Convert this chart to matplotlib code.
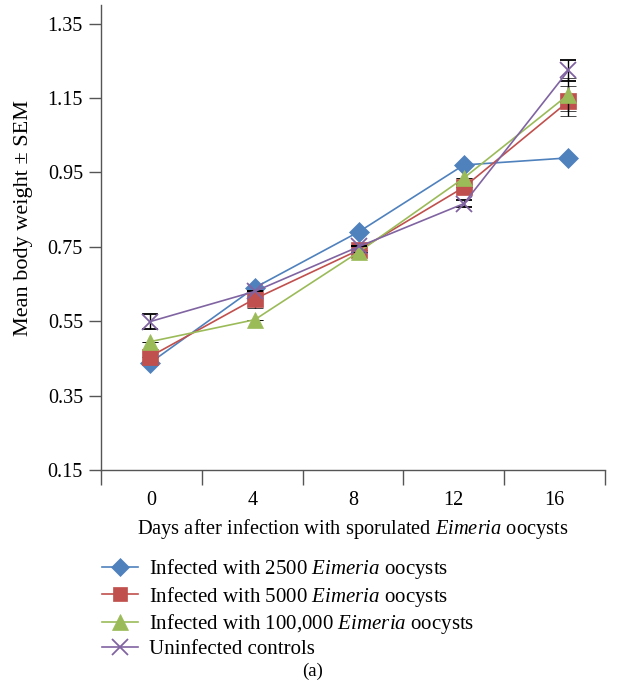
import numpy as np
import matplotlib
matplotlib.use('Agg')
import matplotlib.pyplot as plt
from matplotlib.lines import Line2D

plt.rcParams['font.family'] = ['Liberation Serif', 'DejaVu Serif']
plt.rcParams['mathtext.fontset'] = 'custom'
plt.rcParams['mathtext.it'] = 'Liberation Serif:italic'
plt.rcParams['mathtext.rm'] = 'Liberation Serif'

# 数据
days = ['0', '4', '8', '12', '16']
w_2500 = [0.438, 0.640, 0.791, 0.970, 0.989]
w_5000 = [0.455, 0.610, 0.742, 0.910, 1.141]
w_100k = [0.495, 0.554, 0.737, 0.935, 1.159]
w_ctrl = [0.549, 0.630, 0.751, 0.866, 1.224]
sem_2500 = [0.0, 0.0, 0.0, 0.0, 0.0]
sem_5000 = [0.0, 0.025, 0.0, 0.0, 0.04]
sem_100k = [0.0, 0.0, 0.0, 0.0, 0.045]
sem_ctrl = [0.02, 0.0, 0.0, 0.01, 0.027]

labels = [r'Infected with 2500 $\mathit{Eimeria}$ oocysts',
          r'Infected with 5000 $\mathit{Eimeria}$ oocysts',
          r'Infected with 100,000 $\mathit{Eimeria}$ oocysts',
          'Uninfected controls']

colors = ['#4F81BD', '#C0504D', '#9BBB59', '#8064A2']
markers = ['D', 's', '^', 'x']
msizes = [10, 11, 12, 12]

fig = plt.figure(figsize=(6.27, 6.99), dpi=100)
ax = fig.add_axes([101 / 627, 229 / 699, 504 / 627, 465 / 699])

x = np.arange(len(days))
series = [(w_2500, sem_2500), (w_5000, sem_5000), (w_100k, sem_100k), (w_ctrl, sem_ctrl)]
for i, (vals, err) in enumerate(series):
    ax.errorbar(x, vals, yerr=err, color=colors[i], marker=markers[i], markersize=msizes[i],
                markeredgewidth=1.3 if markers[i] == 'x' else 0.5,
                markeredgecolor=colors[i], linewidth=1.2,
                ecolor='black', elinewidth=1.0, capsize=6, capthick=1.0, zorder=3 + i)

x0, x1 = -0.47, 4.35
ax.set_xlim(x0, x1)
ax.set_ylim(0.15, 1.40)
ax.set_yticks(np.arange(0.15, 1.36, 0.2))
ax.set_yticklabels(['%.2f' % v for v in np.arange(0.15, 1.36, 0.2)])

# 分类轴: 刻度线在类别边界, 标签在中间
bounds = np.linspace(x0, x1, 6)
ax.set_xticks(bounds, minor=True)
ax.set_xticks((bounds[:-1] + bounds[1:]) / 2)
ax.set_xticklabels(days)
ax.tick_params(axis='x', which='major', length=0, pad=15, labelsize=14.5)
ax.tick_params(axis='x', which='minor', length=11, width=1, color='#555555', direction='out')
ax.tick_params(axis='y', length=9, width=1, color='#555555', direction='out', labelsize=14.5, pad=4)

for s in ['top', 'right']:
    ax.spines[s].set_visible(False)
for s in ['left', 'bottom']:
    ax.spines[s].set_color('#555555')
    ax.spines[s].set_linewidth(1.0)

ax.set_xlabel(r'Days after infection with sporulated $\mathit{Eimeria}$ oocysts', fontsize=14.7, labelpad=5)
ax.set_ylabel('Mean body weight ± SEM', fontsize=16)
ax.yaxis.set_label_coords(-0.135, 0.542)

handles = [Line2D([], [], color=colors[i], marker=markers[i], markersize=msizes[i] - 1,
                  markeredgewidth=1.3 if markers[i] == 'x' else 0.5, linewidth=1.2)
           for i in range(4)]
fig.legend(handles, labels, loc='upper left', bbox_to_anchor=(102 / 627, 1 - 557 / 699),
           frameon=False, fontsize=15, handlelength=1.75, handletextpad=0.5, labelspacing=0.17,
           borderaxespad=0, borderpad=0)

fig.text(313 / 627, 1 - 671 / 699, '(a)', ha='center', va='center', fontsize=13.5)

fig.savefig('out.png', dpi=100)
